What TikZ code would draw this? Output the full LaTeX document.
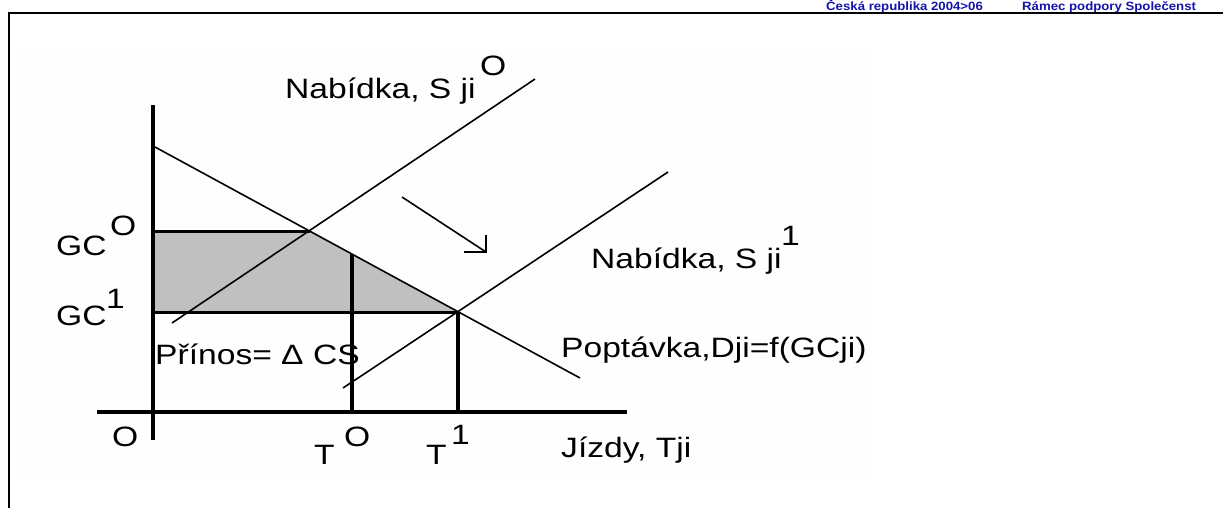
\documentclass[tikz,border=0pt]{standalone}
\usepackage{fontspec}
\newfontfamily\lab[FakeStretch=1.2]{Liberation Sans}
\newfontfamily\hdr[FakeStretch=1.1]{Liberation Sans}
\definecolor{hdrblue}{RGB}{20,20,170}
\definecolor{shadegray}{RGB}{192,192,192}
\definecolor{panelbg}{RGB}{254,254,254}
\begin{document}
\begin{tikzpicture}[x=1pt,y=-1pt,
  lbl/.style={anchor=base west,inner sep=0pt,font=\lab\fontsize{28}{30}\selectfont},
  hdrtxt/.style={anchor=base west,inner sep=0pt,text=hdrblue,font=\hdr\bfseries\fontsize{12}{13}\selectfont},
  econline/.style={line width=1.6pt},
  axisline/.style={line width=4.5pt},
  gcline/.style={line width=3pt},
  tline/.style={line width=4pt},
  frameline/.style={line width=2.5pt}]
\useasboundingbox (0,0) rectangle (1223,507);
\clip (0,0) rectangle (1223,507);
% panel background and frame
\fill[panelbg] (17,50) rectangle (875,478);
\coordinate (fbl) at (9,510);
\coordinate (ftl) at (9,13);
\coordinate (ftr) at (1226,13);
\draw[frameline] (fbl) -- (ftl) -- (ftr);
% header
\node[hdrtxt] (hdr1) at (826,10) {Česká republika 2004>06};
\node[hdrtxt] (hdr2) at (1022,10) {Rámec podpory Společenst};
% key points
\coordinate (yt) at (153,105);
\coordinate (yb) at (153,440);
\coordinate (xl) at (97,412);
\coordinate (xr) at (627,412);
\coordinate (d1) at (155,147);
\coordinate (d2) at (580,378);
\coordinate (s0a) at (172,323);
\coordinate (s0b) at (535,79);
\coordinate (s1a) at (343,388);
\coordinate (s1b) at (668,172);
\coordinate (e0) at (310,231);
\coordinate (e1) at (458,312);
\coordinate (gc0l) at (153,231);
\coordinate (gc1l) at (153,312);
\coordinate (t0t) at (352,254);
\coordinate (t0b) at (352,412);
\coordinate (t1b) at (458,412);
\coordinate (ar1) at (402,197);
\coordinate (ar2) at (486,252);
\coordinate (arv) at (486,235);
\coordinate (arh) at (464,252);
% consumer surplus gain
\fill[shadegray] (gc0l) -- (e0) -- (e1) -- (gc1l) -- cycle;
% lines
\draw[gcline] (gc0l) -- (e0);
\draw[gcline] (gc1l) -- (e1);
\draw[econline] (d1) -- (d2);
\draw[econline] (s0a) -- (s0b);
\draw[econline] (s1a) -- (s1b);
\draw[tline] (t0t) -- (t0b);
\draw[tline] (e1) -- (t1b);
\draw[axisline] (yt) -- (yb);
\draw[axisline] (xl) -- (xr);
% shift arrow
\draw[econline] (ar1) -- (ar2);
\draw[econline] (arv) -- (ar2) -- (arh);
% labels
\node[lbl] (s0lab) at (285,98) {Nabídka, S ji};
\node[lbl] (s0sup) at (480,75) {O};
\node[lbl] (s1lab) at (591,268) {Nabídka, S ji};
\node[lbl] (s1sup) at (781,245) {1};
\node[lbl] (dlab) at (561,357) {Poptávka,Dji=f(GCji)};
\node[lbl] (gc0) at (56,255) {GC};
\node[lbl] (gc0sup) at (110,235) {O};
\node[lbl] (gc1) at (56,325) {GC};
\node[lbl] (gc1sup) at (106,308) {1};
\node[lbl] (orig) at (112,446) {O};
\node[lbl] (prinos) at (155,364) {Přínos= Δ CS};
\node[lbl] (t0) at (314,464) {T};
\node[lbl] (t0sup) at (344,446) {O};
\node[lbl] (t1) at (426,464) {T};
\node[lbl] (t1sup) at (451,444) {1};
\node[lbl] (jizdy) at (561,457) {Jízdy, Tji};
\end{tikzpicture}
\end{document}
